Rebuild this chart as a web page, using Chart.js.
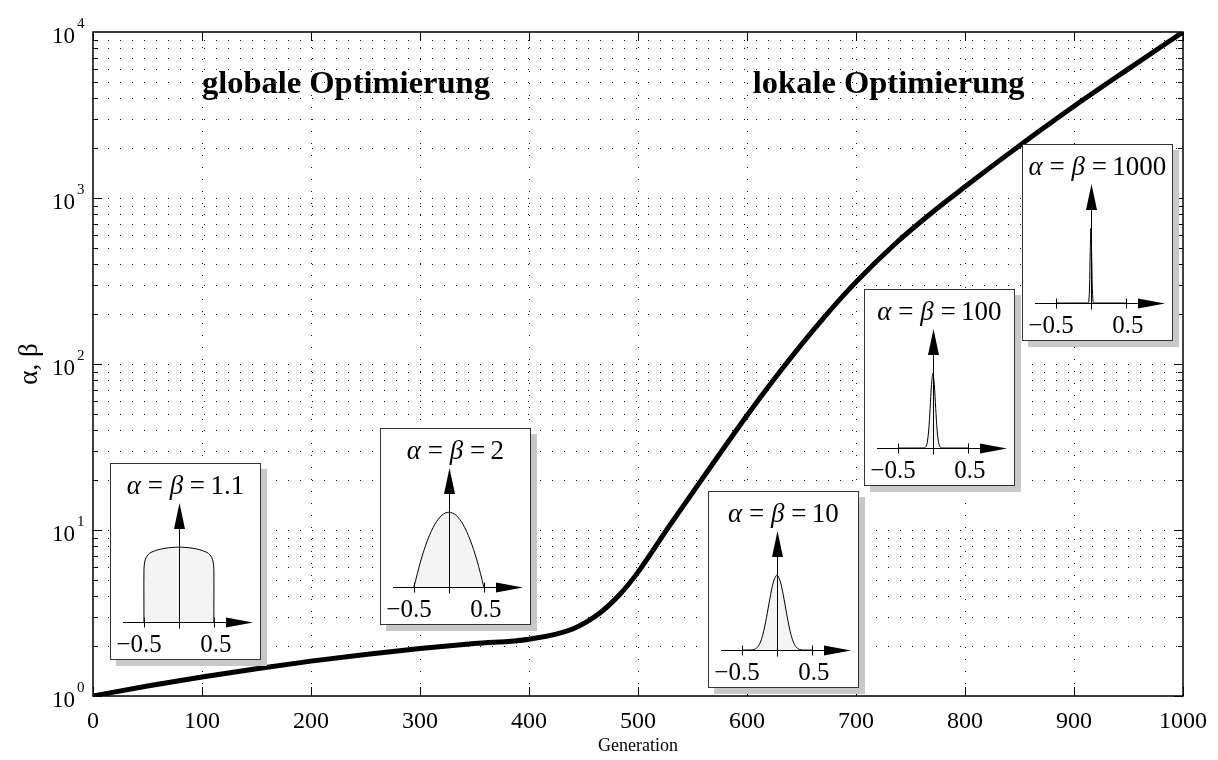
<!DOCTYPE html>
<html>
<head>
<meta charset="utf-8">
<script src="https://cdn.jsdelivr.net/npm/chart.js@4.4.1/dist/chart.umd.min.js"></script>
<style>
  html, body { margin: 0; padding: 0; background: #fff; }
  #wrap { position: relative; width: 1218px; height: 760px; }
  #main { position: absolute; left: 0; top: 0; }
  .inset {
    position: absolute; box-sizing: border-box; width: 151px; height: 197px;
    border: 1px solid #333; background: #fff; box-shadow: 6px 6px 0 #c8c8c8;
  }
  .inset canvas { position: absolute; left: 0; top: 0; }
  .inset .title {
    position: absolute; left: 0; right: 0; top: 6px; line-height: 30px;
    text-align: center; font-size: 27px; font-family: 'Liberation Serif', serif; white-space: nowrap;
  }
</style>
</head>
<body>
<div id="wrap">
  <canvas id="main" width="1218" height="760"></canvas>
</div>
<script>
// alpha = beta over the generations (log axis)
const generations = [0, 50, 100, 150, 200, 250, 300, 350, 400, 440, 465, 483, 499, 528, 563, 599, 633, 668, 699,
  738, 773, 799, 826, 865, 900, 950, 1000];
const alphaBeta = [1, 1.148, 1.303, 1.459, 1.622, 1.778, 1.932, 2.07, 2.198, 2.535, 3.162, 4.07, 5.46, 10.4, 22.2,
  48, 95, 182, 307, 545, 851, 1156, 1578, 2443, 3573, 6000, 10000];

const xTicks = [0, 100, 200, 300, 400, 500, 600, 700, 800, 900, 1000];
const yDecades = [1, 10, 100, 1000, 10000];
const yMantissas = [1, 2, 3, 4, 5, 6, 7, 8, 9];

const phaseLabels = ['globale Optimierung', 'lokale Optimierung'];
const phaseX = [232, 730];
const phaseY = 4300;

// beta densities shown in the small boxes, scaled to a peak of 1
const insetParams = ['1.1', '2', '10', '100', '1000'];
const pdfX = [
  [-0.5, -0.5, -0.49, -0.47, -0.44, -0.4, -0.3, -0.2, -0.1, 0, 0.1, 0.2, 0.3, 0.4, 0.44, 0.47, 0.49, 0.5, 0.5],
  [-0.5, -0.4, -0.3, -0.2, -0.1, 0, 0.1, 0.2, 0.3, 0.4, 0.5],
  [-0.5, -0.4, -0.35, -0.3, -0.25, -0.2, -0.15, -0.1, -0.05, 0, 0.05, 0.1, 0.15, 0.2, 0.25, 0.3, 0.35, 0.4, 0.5],
  [-0.5, -0.14, -0.12, -0.1, -0.08, -0.06, -0.04, -0.02, 0, 0.02, 0.04, 0.06, 0.08, 0.1, 0.12, 0.14, 0.5],
  [-0.5, -0.04, -0.03, -0.02, -0.01, 0, 0.01, 0.02, 0.03, 0.04, 0.5]
];
const pdfY = [
  [0, 0.7, 0.8, 0.86, 0.9, 0.93, 0.965, 0.985, 0.996, 1, 0.996, 0.985, 0.965, 0.93, 0.9, 0.86, 0.8, 0.7, 0],
  [0, 0.36, 0.64, 0.84, 0.96, 1, 0.96, 0.84, 0.64, 0.36, 0],
  [0, 0, 0.002, 0.018, 0.075, 0.21, 0.43, 0.69, 0.91, 1, 0.91, 0.69, 0.43, 0.21, 0.075, 0.018, 0.002, 0, 0],
  [0, 0, 0.003, 0.018, 0.077, 0.24, 0.53, 0.85, 1, 0.85, 0.53, 0.24, 0.077, 0.018, 0.003, 0, 0],
  [0, 0, 0.027, 0.2, 0.67, 1, 0.67, 0.2, 0.027, 0, 0]
];
const insetPos = [[110, 463], [380, 428], [708, 491], [864, 289], [1022, 144]];

const serif = '"Liberation Serif", "Times New Roman", serif';

const mainAxes = {
  id: 'mainAxes',
  beforeDatasetsDraw(chart) {
    const { ctx, chartArea: a, scales: { x, y } } = chart;
    ctx.save();
    ctx.strokeStyle = '#111';
    ctx.lineWidth = 1;
    ctx.setLineDash([1, 11]);
    xTicks.slice(1, -1).forEach(v => {
      const px = Math.round(x.getPixelForValue(v)) + 0.5;
      ctx.beginPath(); ctx.moveTo(px, a.bottom); ctx.lineTo(px, a.top); ctx.stroke();
    });
    yDecades.slice(0, -1).forEach((d, i) => {
      yMantissas.forEach(m => {
        if (i === 0 && m === 1) return;
        const py = Math.round(y.getPixelForValue(m * d)) + 0.5;
        ctx.beginPath(); ctx.moveTo(a.left + 3, py); ctx.lineTo(a.right, py); ctx.stroke();
      });
    });
    ctx.restore();
  },
  afterDatasetsDraw(chart) {
    const { ctx, chartArea: a, scales: { x, y } } = chart;
    ctx.save();
    ctx.strokeStyle = '#000';
    ctx.fillStyle = '#000';
    ctx.lineWidth = 1.5;
    ctx.strokeRect(a.left, a.top, a.right - a.left, a.bottom - a.top);

    // inside ticks
    ctx.lineWidth = 1;
    ctx.beginPath();
    xTicks.forEach(v => {
      const px = Math.round(x.getPixelForValue(v)) + 0.5;
      ctx.moveTo(px, a.bottom); ctx.lineTo(px, a.bottom - 9);
      ctx.moveTo(px, a.top); ctx.lineTo(px, a.top + 9);
    });
    yDecades.slice(0, -1).forEach(d => {
      yMantissas.forEach(m => {
        const len = m === 1 ? 9 : 5;
        const py = Math.round(y.getPixelForValue(m * d)) + 0.5;
        ctx.moveTo(a.left, py); ctx.lineTo(a.left + len, py);
        ctx.moveTo(a.right, py); ctx.lineTo(a.right - len, py);
      });
    });
    ctx.stroke();

    // tick labels
    ctx.textBaseline = 'alphabetic';
    ctx.font = '24px ' + serif;
    ctx.textAlign = 'center';
    xTicks.forEach(v => ctx.fillText(String(v), x.getPixelForValue(v), a.bottom + 32));
    yDecades.forEach((v, i) => {
      const py = y.getPixelForValue(v);
      ctx.font = '23px ' + serif;
      ctx.textAlign = 'right';
      ctx.fillText('10', a.left - 18, py + 10.5);
      ctx.font = '15px ' + serif;
      ctx.textAlign = 'left';
      ctx.fillText(String(i), a.left - 16, py - 4);
    });

    // axis titles
    ctx.font = '18px ' + serif;
    ctx.textAlign = 'center';
    ctx.fillText('Generation', (a.left + a.right) / 2, 751);
    ctx.save();
    ctx.translate(30, (a.top + a.bottom) / 2);
    ctx.rotate(-Math.PI / 2);
    ctx.font = '27px ' + serif;
    ctx.textBaseline = 'middle';
    ctx.fillText('α, β', 0, 0);
    ctx.restore();

    // phase annotations
    ctx.font = 'bold 32.5px ' + serif;
    ctx.textAlign = 'center';
    phaseLabels.forEach((t, i) => ctx.fillText(t, x.getPixelForValue(phaseX[i]), y.getPixelForValue(phaseY)));
    ctx.restore();
  }
};

new Chart(document.getElementById('main'), {
  type: 'line',
  data: {
    datasets: [{
      data: generations.map((g, i) => ({ x: g, y: alphaBeta[i] })),
      borderColor: '#000',
      borderWidth: 5,
      pointRadius: 0,
      cubicInterpolationMode: 'monotone',
      clip: 0
    }]
  },
  options: {
    responsive: false,
    animation: false,
    events: [],
    layout: { padding: { left: 93, right: 35, top: 32, bottom: 64 } },
    plugins: { legend: { display: false }, tooltip: { enabled: false } },
    scales: {
      x: { type: 'linear', display: false, min: 0, max: 1000 },
      y: { type: 'logarithmic', display: false, min: 1, max: 10000 }
    }
  },
  plugins: [mainAxes]
});

const insetAxes = {
  id: 'insetAxes',
  afterDatasetsDraw(chart) {
    const { ctx, scales: { x, y } } = chart;
    const y0 = Math.round(y.getPixelForValue(0)) + 0.5;
    const x0 = Math.round(x.getPixelForValue(0)) + 0.5;
    const xEnd = x.getPixelForValue(x.max);
    const yEnd = y.getPixelForValue(y.max);
    ctx.save();
    ctx.strokeStyle = '#000';
    ctx.fillStyle = '#000';
    ctx.lineWidth = 1;
    ctx.beginPath();
    ctx.moveTo(x.getPixelForValue(x.min), y0); ctx.lineTo(xEnd - 26, y0);
    ctx.moveTo(x0, y0 + 6); ctx.lineTo(x0, yEnd + 25);
    [-0.5, 0.5].forEach(v => {
      const px = Math.round(x.getPixelForValue(v)) + 0.5;
      ctx.moveTo(px, y0 - 5); ctx.lineTo(px, y0 + 5);
    });
    ctx.stroke();
    ctx.beginPath();
    ctx.moveTo(xEnd, y0); ctx.lineTo(xEnd - 27, y0 - 5); ctx.lineTo(xEnd - 27, y0 + 5); ctx.closePath();
    ctx.moveTo(x0, yEnd); ctx.lineTo(x0 - 5.5, yEnd + 26); ctx.lineTo(x0 + 5.5, yEnd + 26); ctx.closePath();
    ctx.fill();
    ctx.font = '25px ' + serif;
    ctx.textAlign = 'center';
    ctx.fillText('\u22120.5', x.getPixelForValue(-0.5) - 5, y0 + 29);
    ctx.fillText('0.5', x.getPixelForValue(0.5) + 2, y0 + 29);
    ctx.restore();
  }
};

const wrap = document.getElementById('wrap');
insetParams.forEach((p, i) => {
  const box = document.createElement('div');
  box.className = 'inset';
  box.style.left = insetPos[i][0] + 'px';
  box.style.top = insetPos[i][1] + 'px';
  const cv = document.createElement('canvas');
  cv.width = 149;
  cv.height = 195;
  const title = document.createElement('div');
  title.className = 'title';
  title.innerHTML = '<i>α</i> = <i>β</i> =&thinsp;' + p;
  box.appendChild(cv);
  box.appendChild(title);
  wrap.appendChild(box);

  new Chart(cv, {
    type: 'line',
    data: {
      datasets: [{
        data: pdfX[i].map((v, k) => ({ x: v, y: pdfY[i][k] })),
        borderColor: '#000',
        borderWidth: 1,
        backgroundColor: '#f4f4f4',
        fill: 'origin',
        pointRadius: 0,
        tension: 0.3
      }]
    },
    options: {
      responsive: false,
      animation: false,
      events: [],
      layout: { padding: { left: 12, right: 7, top: 39, bottom: 37 } },
      plugins: { legend: { display: false }, tooltip: { enabled: false } },
      scales: {
        x: { type: 'linear', display: false, min: -0.8, max: 1.06 },
        y: { type: 'linear', display: false, min: 0, max: 1.59 }
      }
    },
    plugins: [insetAxes]
  });
});
</script>
</body>
</html>
